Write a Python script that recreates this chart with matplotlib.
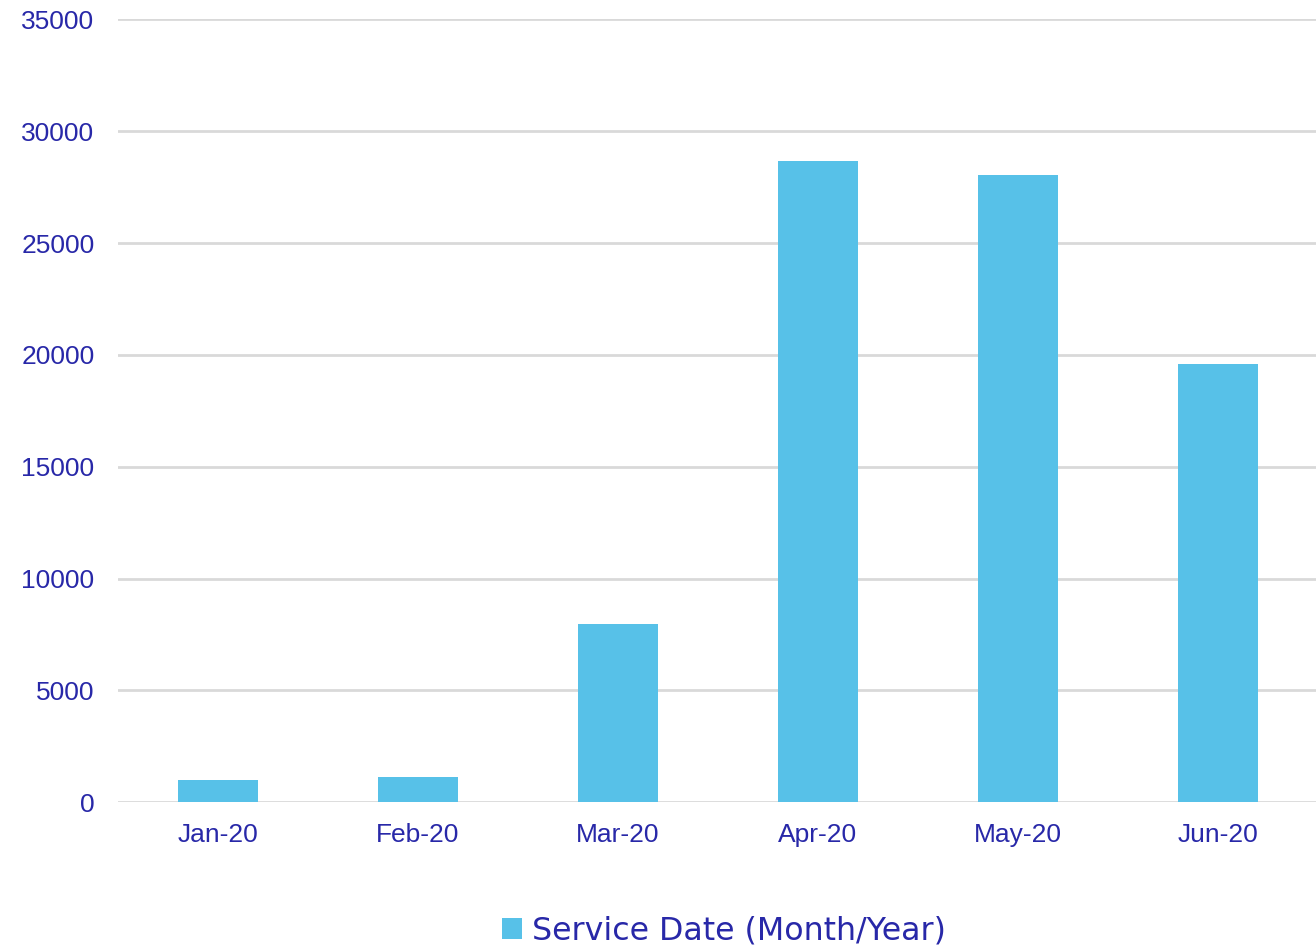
import matplotlib
matplotlib.use("Agg")
import matplotlib.pyplot as plt
from matplotlib.patches import Patch

categories = ["Jan-20", "Feb-20", "Mar-20", "Apr-20", "May-20", "Jun-20"]
values = [1000, 1140, 7960, 28660, 28035, 19600]
yticks = [0, 5000, 10000, 15000, 20000, 25000, 30000, 35000]
series_name = "Service Date (Month/Year)"

text_color = "#2828A8"
bar_color = "#57C1E8"
grid_color = "#D9D9D9"

fig = plt.figure(figsize=(13.16, 9.48), dpi=100)
ax = fig.add_axes([118/1316, 145.7/948, 1200/1316, (802.3-19.3)/948])

x = list(range(len(categories)))
ax.bar(x, values, width=0.4, color=bar_color, zorder=3)
ax.set_xlim(-0.5, len(categories) - 0.5)
ax.set_ylim(0, 35000)
ax.set_yticks(yticks)
ax.set_yticklabels([str(v) for v in yticks])
ax.set_xticks(x)
ax.set_xticklabels(categories)

for v in yticks:
    ax.axhline(v, color=grid_color, linewidth=2, zorder=1)

for s in ax.spines.values():
    s.set_visible(False)
ax.tick_params(axis="both", length=0, labelsize=19, labelcolor=text_color)
ax.tick_params(axis="y", pad=17)
ax.tick_params(axis="x", pad=15)
for lab in ax.get_xticklabels() + ax.get_yticklabels():
    lab.set_fontfamily("Liberation Sans")

handle = Patch(facecolor=bar_color, edgecolor="none")
leg = fig.legend([handle], [series_name], loc="center", bbox_to_anchor=(724/1316, 1 - 931/948),
                 frameon=False, handlelength=0.62, handleheight=0.62, handletextpad=0.3,
                 prop={"family": "DejaVu Sans", "size": 22.8})
for t in leg.get_texts():
    t.set_color(text_color)

fig.savefig("out.png", dpi=100)
